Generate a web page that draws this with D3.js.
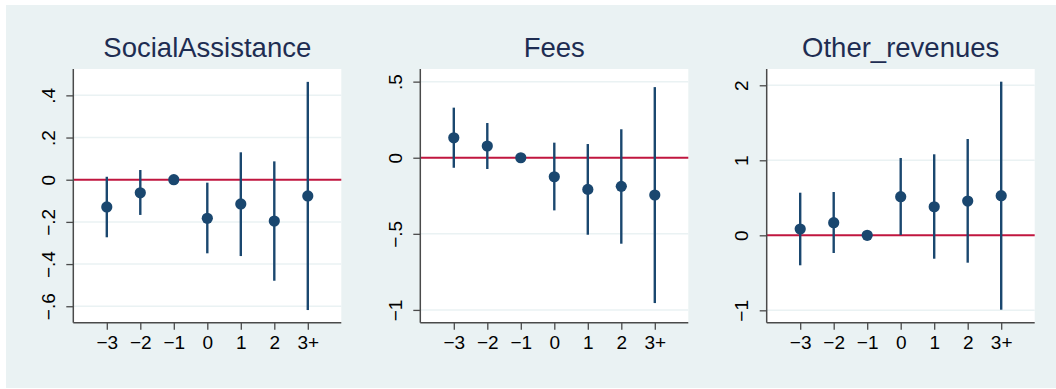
<!DOCTYPE html>
<html>
<head>
<meta charset="utf-8">
<script src="https://cdn.jsdelivr.net/npm/d3@7"></script>
<style>
  html, body { margin: 0; padding: 0; background: #ffffff; }
  svg { display: block; }
  svg text { font-family: "Liberation Sans", Arial, Helvetica, sans-serif; }
</style>
</head>
<body>
<svg id="chart" width="1056" height="389"></svg>
<script>
// Event-time categories shared by all three panels
const categories = ["−3", "−2", "−1", "0", "1", "2", "3+"];

// SocialAssistance: point estimates and 95% confidence bounds
const socialEst   = [-0.129, -0.062, 0, -0.183, -0.115, -0.196, -0.077];
const socialLow   = [-0.273, -0.167, 0, -0.349, -0.362, -0.479, -0.618];
const socialHigh  = [ 0.014,  0.046, 0, -0.014,  0.130,  0.087,  0.464];
const socialTicks = [-0.6, -0.4, -0.2, 0, 0.2, 0.4];
const socialTickLabels = ["−.6", "−.4", "−.2", "0", ".2", ".4"];

// Fees
const feesEst   = [0.131, 0.077, 0, -0.125, -0.208, -0.188, -0.245];
const feesLow   = [-0.066, -0.074, 0, -0.346, -0.506, -0.565, -0.955];
const feesHigh  = [0.329, 0.228, 0, 0.099, 0.090, 0.187, 0.464];
const feesTicks = [-1, -0.5, 0, 0.5];
const feesTickLabels = ["−1", "−.5", "0", ".5"];

// Other_revenues
const otherEst   = [0.084, 0.168, 0, 0.515, 0.381, 0.457, 0.528];
const otherLow   = [-0.400, -0.236, 0, 0.004, -0.312, -0.365, -0.992];
const otherHigh  = [0.568, 0.577, 0, 1.031, 1.080, 1.284, 2.048];
const otherTicks = [-1, 0, 1, 2];
const otherTickLabels = ["−1", "0", "1", "2"];

const panels = [
  { title: "SocialAssistance", est: socialEst, low: socialLow, high: socialHigh,
    ticks: socialTicks, labels: socialTickLabels, domain: [-0.678, 0.525], x0: 73.3 },
  { title: "Fees", est: feesEst, low: feesLow, high: feesHigh,
    ticks: feesTicks, labels: feesTickLabels, domain: [-1.084, 0.583], x0: 420.3 },
  { title: "Other_revenues", est: otherEst, low: otherLow, high: otherHigh,
    ticks: otherTicks, labels: otherTickLabels, domain: [-1.165, 2.217], x0: 766.7 }
];

const svg = d3.select("#chart");
const W = 1056, H = 389;
const plotW = 268, plotTop = 69, plotBottom = 322.7;
const FONT = "'Liberation Sans', Arial, Helvetica, sans-serif";

const navy = "#1a476f";
const red = "#c0163f";
const gridColor = "#eaf2f3";
const axisColor = "#4a4a4a";

// Graph background
svg.append("rect").attr("x", 6).attr("y", 5).attr("width", W - 6).attr("height", H - 6)
  .attr("fill", "#eaf2f3");

panels.forEach(p => {
  const g = svg.append("g");
  const x = d3.scalePoint().domain(categories).range([p.x0, p.x0 + plotW]).padding(1);
  const y = d3.scaleLinear().domain(p.domain).range([plotBottom, plotTop]);

  // plot region
  g.append("rect").attr("x", p.x0).attr("y", plotTop)
    .attr("width", plotW).attr("height", plotBottom - plotTop).attr("fill", "#ffffff");

  // horizontal gridlines
  g.selectAll(".grid").data(p.ticks.filter(t => t !== 0)).join("line")
    .attr("x1", p.x0).attr("x2", p.x0 + plotW)
    .attr("y1", d => y(d)).attr("y2", d => y(d))
    .attr("stroke", gridColor).attr("stroke-width", 1.5);

  // zero reference line
  g.append("line").attr("x1", p.x0).attr("x2", p.x0 + plotW)
    .attr("y1", y(0)).attr("y2", y(0))
    .attr("stroke", red).attr("stroke-width", 2);

  // y axis with labels turned upright along the axis
  const yAxis = d3.axisLeft(y).tickValues(p.ticks)
    .tickFormat((d, i) => p.labels[i]).tickSize(7);
  const ya = g.append("g").attr("transform", `translate(${p.x0},0)`).call(yAxis)
    .attr("font-family", FONT);
  ya.select(".domain").attr("stroke", axisColor).attr("stroke-width", 1.5)
    .attr("d", `M0,${plotTop}V${plotBottom}`);
  ya.selectAll(".tick line").attr("stroke", axisColor).attr("stroke-width", 1.3);
  ya.selectAll(".tick text")
    .attr("font-size", 19).attr("fill", "#000")
    .attr("text-anchor", "middle")
    .attr("transform", "rotate(-90)")
    .attr("x", 0).attr("y", -18.3).attr("dy", 0);

  // x axis
  const xAxis = d3.axisBottom(x).tickSize(7);
  const xa = g.append("g").attr("transform", `translate(0,${plotBottom})`).call(xAxis)
    .attr("font-family", FONT);
  xa.select(".domain").attr("stroke", axisColor).attr("stroke-width", 1.5)
    .attr("d", `M${p.x0},0H${p.x0 + plotW}`);
  xa.selectAll(".tick line").attr("stroke", axisColor).attr("stroke-width", 1.3);
  xa.selectAll(".tick text").attr("font-size", 19).attr("fill", "#000")
    .attr("y", 26.5).attr("dy", 0);

  const rows = categories.map((c, i) => ({ c, est: p.est[i], low: p.low[i], high: p.high[i] }));

  // confidence intervals
  g.selectAll(".ci").data(rows.filter(r => r.low !== r.high)).join("line")
    .attr("x1", r => x(r.c)).attr("x2", r => x(r.c))
    .attr("y1", r => y(r.low)).attr("y2", r => y(r.high))
    .attr("stroke", navy).attr("stroke-width", 2.4);

  // point estimates
  g.selectAll(".pt").data(rows).join("circle")
    .attr("cx", r => x(r.c)).attr("cy", r => y(r.est)).attr("r", 5.6)
    .attr("fill", navy);

  // panel title
  g.append("text").attr("x", p.x0 + plotW / 2).attr("y", 57.3)
    .attr("text-anchor", "middle").attr("font-size", 27.5)
    .attr("font-family", FONT)
    .attr("fill", "#1e2d52").text(p.title);
});
</script>
</body>
</html>
